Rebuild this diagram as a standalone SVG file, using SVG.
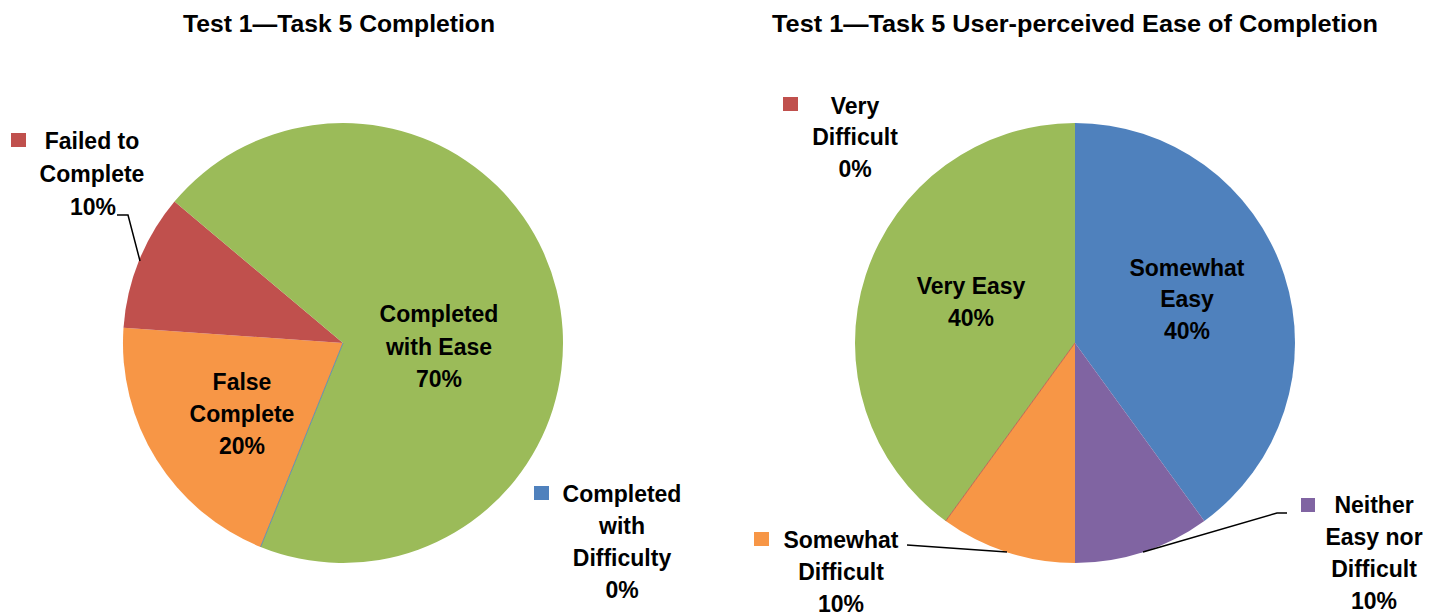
<svg xmlns="http://www.w3.org/2000/svg" width="1439" height="612" viewBox="0 0 1439 612">
<style>
text{font-family:"Liberation Sans",Arial,sans-serif;font-weight:bold;fill:#000;text-anchor:middle;font-size:23px}
.title{font-size:24px}
.lead{fill:none;stroke:#000;stroke-width:1.5}
</style>
<rect width="1439" height="612" fill="#fff"/>
<text class="title" x="339" y="32" textLength="312" lengthAdjust="spacingAndGlyphs">Test 1—Task 5 Completion</text>
<text class="title" x="1075" y="32" textLength="606" lengthAdjust="spacingAndGlyphs">Test 1—Task 5 User-perceived Ease of Completion</text>
<g id="pie1">
<path id="p1-orange" d="M343,343 L260.6,547 A220,220 0 0 1 123.5,327.7 Z" fill="#F79646"/>
<path id="p1-red" d="M343,343 L123.5,327.7 A220,220 0 0 1 174.5,201.6 Z" fill="#C0504D"/>
<path id="p1-green" d="M343,343 L174.5,201.6 A220,220 0 1 1 260.6,547 Z" fill="#9BBB59"/>
<line x1="343" y1="343" x2="260.6" y2="547" stroke="#4F81BD" stroke-width="0.8"/>
</g>
<g id="pie2">
<path id="p2-blue" d="M1075,343 L1075,123 A220,220 0 0 1 1204.3,521 Z" fill="#4F81BD"/>
<path id="p2-purple" d="M1075,343 L1204.3,521 A220,220 0 0 1 1075,563 Z" fill="#8064A2"/>
<path id="p2-orange" d="M1075,343 L1075,563 A220,220 0 0 1 945.7,521 Z" fill="#F79646"/>
<path id="p2-green" d="M1075,343 L945.7,521 A220,220 0 0 1 1075,123 Z" fill="#9BBB59"/>
<line x1="1075" y1="343" x2="945.7" y2="521" stroke="#C0504D" stroke-width="0.8"/>
</g>
<g id="connectors">
<path class="lead" d="M117,215 L128,215 L140,261"/>
<path class="lead" d="M907,545 L1007,552"/>
<path class="lead" d="M1143,552 L1277,513 L1287,513"/>
</g>
<g id="label-completed-ease"><text x="439" y="322">Completed</text><text x="439" y="355">with Ease</text><text x="439" y="387">70%</text></g>
<g id="label-false-complete"><text x="242" y="390">False</text><text x="242" y="422">Complete</text><text x="242" y="454">20%</text></g>
<g id="label-failed"><rect x="11" y="133" width="15" height="14" fill="#C0504D"/><text x="92" y="149">Failed to</text><text x="92" y="182">Complete</text><text x="93" y="215">10%</text></g>
<g id="label-completed-difficulty"><rect x="534" y="486" width="15" height="14" fill="#4F81BD"/><text x="622" y="502">Completed</text><text x="622" y="534">with</text><text x="622" y="566">Difficulty</text><text x="622" y="598">0%</text></g>
<g id="label-very-difficult"><rect x="783" y="97" width="15" height="14" fill="#C0504D"/><text x="855" y="114">Very</text><text x="855" y="145">Difficult</text><text x="855" y="177">0%</text></g>
<g id="label-very-easy"><text x="971" y="294">Very Easy</text><text x="971" y="326">40%</text></g>
<g id="label-somewhat-easy"><text x="1187" y="276">Somewhat</text><text x="1187" y="307">Easy</text><text x="1187" y="339">40%</text></g>
<g id="label-somewhat-difficult"><rect x="754" y="532" width="15" height="14" fill="#F79646"/><text x="841" y="548">Somewhat</text><text x="841" y="580">Difficult</text><text x="841" y="612">10%</text></g>
<g id="label-neither"><rect x="1301" y="498" width="14" height="14" fill="#8064A2"/><text x="1374" y="513">Neither</text><text x="1374" y="545">Easy nor</text><text x="1374" y="577">Difficult</text><text x="1374" y="609">10%</text></g>
</svg>
